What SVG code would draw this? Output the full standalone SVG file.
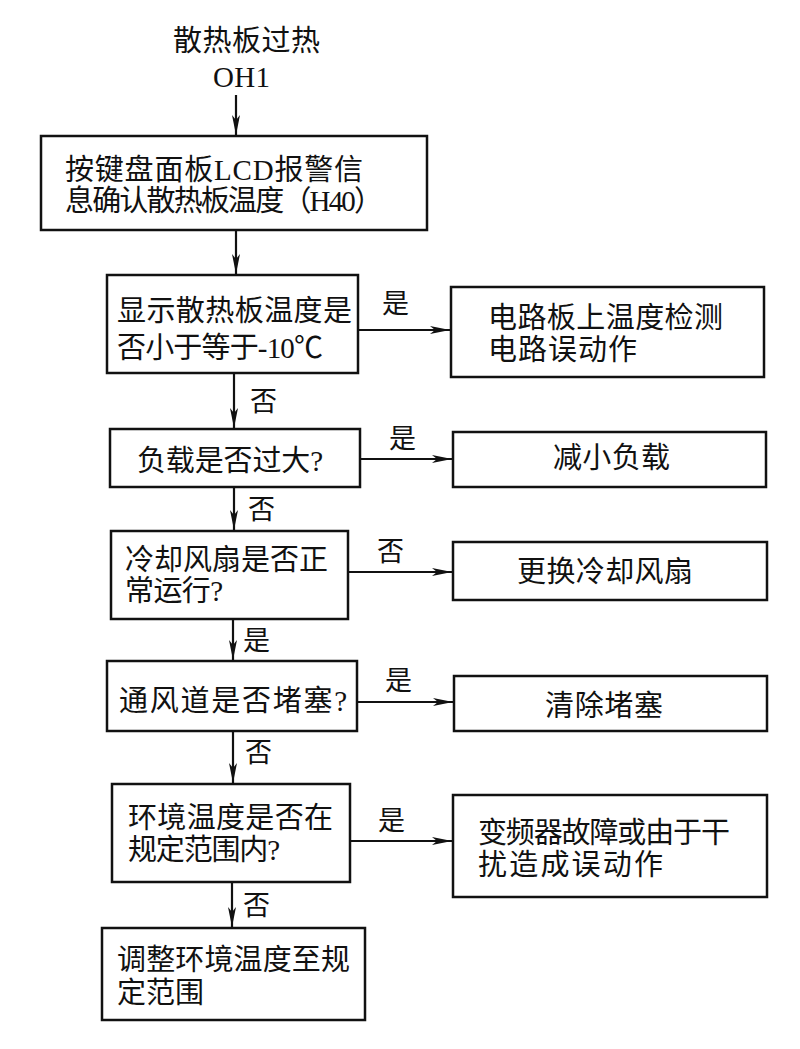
<svg xmlns="http://www.w3.org/2000/svg" width="800" height="1049" viewBox="0 0 800 1049">
<style>
.box{fill:#fff;stroke:#111;stroke-width:2.5}
.t{font-family:"Liberation Serif","Noto Sans CJK SC",serif;font-size:29px;fill:#111}
.l{font-family:"Liberation Serif","Noto Sans CJK SC",serif;font-size:27px;fill:#111}
.c{stroke:#111;stroke-width:2.2;fill:none;marker-end:url(#ah)}
</style>
<defs>
<marker id="ah" viewBox="0 0 20 8" markerWidth="20" markerHeight="8" refX="20" refY="4" orient="auto" markerUnits="userSpaceOnUse">
<path d="M0,0 L20,4 L0,8 L5,4 z" fill="#111"/>
</marker>
</defs>
<rect width="800" height="1049" fill="#fff"/>
<g id="start">
<text class="t" x="173" y="51" textLength="147">散热板过热</text>
<text class="t" x="213" y="87" textLength="57">OH1</text>
</g>
<g id="n1">
<rect class="box" x="41" y="136" width="386" height="94"/>
<text class="t" x="65" y="180" textLength="298">按键盘面板LCD报警信</text>
<text class="t" x="65" y="211" textLength="318">息确认散热板温度（H40）</text>
</g>
<g id="n2">
<rect class="box" x="107" y="275" width="251" height="98"/>
<text class="t" x="117" y="321" textLength="235">显示散热板温度是</text>
<text class="t" x="117" y="358" textLength="206">否小于等于-10℃</text>
</g>
<g id="nA">
<rect class="box" x="451" y="287" width="313" height="90"/>
<text class="t" x="488" y="328" textLength="235">电路板上温度检测</text>
<text class="t" x="488" y="360" textLength="149">电路误动作</text>
</g>
<g id="n3">
<rect class="box" x="110" y="429" width="250" height="58"/>
<text class="t" x="137" y="471" textLength="186">负载是否过大?</text>
</g>
<g id="nB">
<rect class="box" x="453" y="432" width="313" height="55"/>
<text class="t" x="553" y="468" textLength="117">减小负载</text>
</g>
<g id="n4">
<rect class="box" x="111" y="531" width="237" height="88"/>
<text class="t" x="125" y="570" textLength="203">冷却风扇是否正</text>
<text class="t" x="125" y="601" textLength="98">常运行?</text>
</g>
<g id="nC">
<rect class="box" x="453" y="542" width="314" height="58"/>
<text class="t" x="517" y="582" textLength="176">更换冷却风扇</text>
</g>
<g id="n5">
<rect class="box" x="107" y="661" width="250" height="70"/>
<text class="t" x="119" y="711" textLength="228">通风道是否堵塞?</text>
</g>
<g id="nD">
<rect class="box" x="454" y="676" width="313" height="55"/>
<text class="t" x="545" y="716" textLength="118">清除堵塞</text>
</g>
<g id="n6">
<rect class="box" x="112" y="784" width="238" height="98"/>
<text class="t" x="128" y="828" textLength="205">环境温度是否在</text>
<text class="t" x="128" y="860" textLength="152">规定范围内?</text>
</g>
<g id="nE">
<rect class="box" x="453" y="795" width="314" height="102"/>
<text class="t" x="478" y="843" textLength="252">变频器故障或由于干</text>
<text class="t" x="478" y="875" textLength="185">扰造成误动作</text>
</g>
<g id="n7">
<rect class="box" x="102" y="928" width="263" height="92"/>
<text class="t" x="117" y="970" textLength="233">调整环境温度至规</text>
<text class="t" x="117" y="1003" textLength="87">定范围</text>
</g>
<g id="connectors">
<line class="c" x1="236" y1="95" x2="236" y2="135"/>
<line class="c" x1="236" y1="230" x2="236" y2="274"/>
<line class="c" x1="358" y1="330" x2="450" y2="330"/>
<line class="c" x1="234" y1="373" x2="234" y2="428"/>
<line class="c" x1="360" y1="459" x2="452" y2="459"/>
<line class="c" x1="234" y1="487" x2="234" y2="530"/>
<line class="c" x1="348" y1="572" x2="452" y2="572"/>
<line class="c" x1="233" y1="619" x2="233" y2="660"/>
<line class="c" x1="357" y1="702" x2="453" y2="702"/>
<line class="c" x1="233" y1="731" x2="233" y2="783"/>
<line class="c" x1="350" y1="841" x2="452" y2="841"/>
<line class="c" x1="232" y1="882" x2="232" y2="927"/>
<text class="l" x="382" y="313">是</text>
<text class="l" x="250" y="411">否</text>
<text class="l" x="389" y="448">是</text>
<text class="l" x="248" y="519">否</text>
<text class="l" x="377" y="561">否</text>
<text class="l" x="243" y="650">是</text>
<text class="l" x="385" y="690">是</text>
<text class="l" x="245" y="762">否</text>
<text class="l" x="378" y="830">是</text>
<text class="l" x="243" y="915">否</text>
</g>
</svg>
